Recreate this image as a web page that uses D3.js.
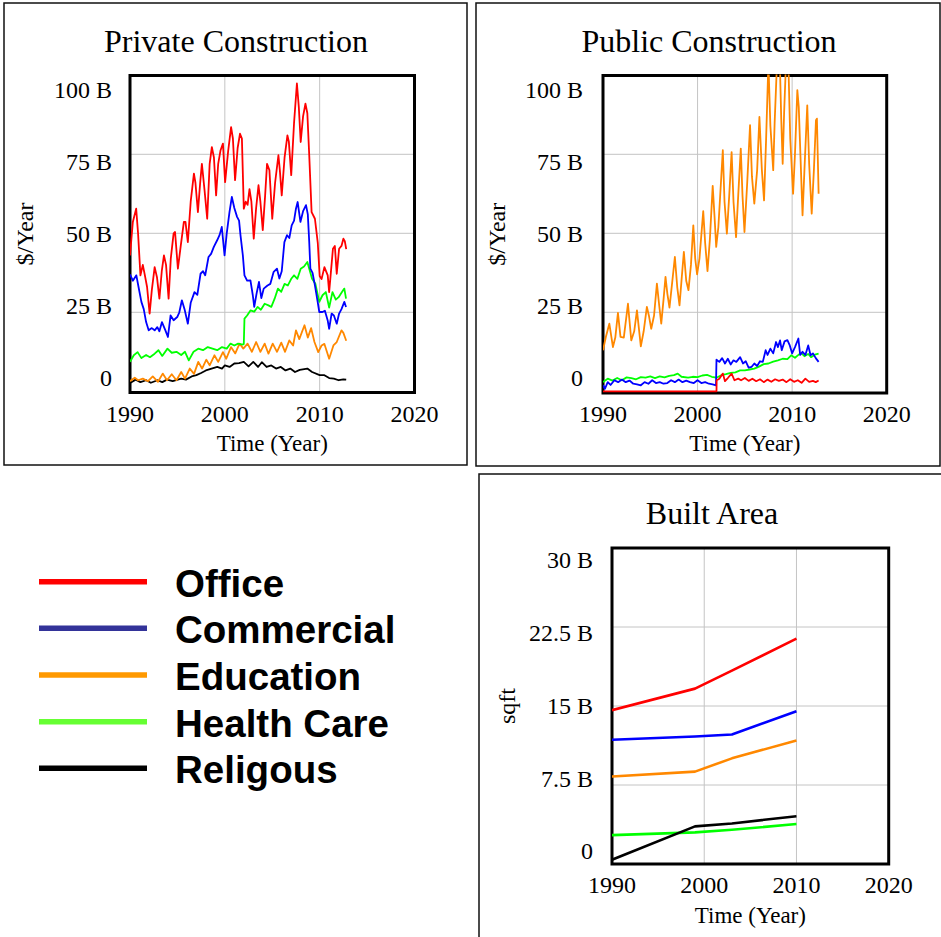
<!DOCTYPE html>
<html><head><meta charset="utf-8">
<script src="https://cdn.jsdelivr.net/npm/d3@7"></script>
<style>body{margin:0;background:#fff}svg{display:block}</style>
</head><body><svg id="c" width="941" height="937"></svg>
<script>
// ---------------- DATA ----------------
const seriesNames = ["Office","Commercial","Education","Health Care","Religous"];
const xTicks = [1990,2000,2010,2020];
const constrTicks = [0,25,50,75,100];
const constrTickLabels = ["0","25 B","50 B","75 B","100 B"];
const areaTicks = [0,7.5,15,22.5,30];
const areaTickLabels = ["0","7.5 B","15 B","22.5 B","30 B"];

// Private construction ($B/Year) [year, value]
const privOffice = [[1990.0,43],[1990.3,53.6],[1990.65,57.8],[1990.85,50],[1991.1,36.7],[1991.35,40],[1991.55,37],[1991.8,33],[1992.07,24.6],[1992.3,32],[1992.6,39.3],[1992.85,36],[1993.1,29.3],[1993.35,38],[1993.58,43],[1993.8,40],[1994.07,29.3],[1994.3,42],[1994.6,50],[1994.75,50.4],[1995.05,38.8],[1995.35,46],[1995.68,53.6],[1995.85,53.6],[1996.1,47.2],[1996.4,60],[1996.74,68.9],[1996.9,66],[1997.16,56.7],[1997.4,66],[1997.58,72],[1997.85,64],[1998.14,54.6],[1998.4,72],[1998.63,77.3],[1998.85,74],[1999.08,62],[1999.3,72],[1999.55,76.3],[1999.8,78.4],[2000.03,66.2],[2000.35,76],[2000.66,83.6],[2000.85,80],[2001.08,66.8],[2001.35,77],[2001.6,81.5],[2001.8,80],[2002.0,57.8],[2002.2,60],[2002.4,59],[2002.6,64],[2002.8,60],[2003.05,48.3],[2003.3,58],[2003.55,65.2],[2003.75,60],[2004.0,51],[2004.25,62],[2004.45,72],[2004.7,70],[2005.0,54.6],[2005.3,66],[2005.65,74.7],[2005.8,70],[2006.0,62],[2006.3,74],[2006.6,81],[2006.75,79],[2007.0,68.4],[2007.3,85],[2007.6,97.4],[2007.8,90],[2008.0,78.9],[2008.25,87],[2008.5,91],[2008.7,88],[2008.9,74.7],[2009.15,56.7],[2009.5,54.6],[2009.8,47],[2010.0,36.5],[2010.2,35.5],[2010.5,39.3],[2010.85,36.7],[2011.0,31.4],[2011.4,45.1],[2011.6,46],[2011.8,37.2],[2012.05,45.1],[2012.3,46],[2012.5,48.3],[2012.65,47.5],[2012.8,45]];
const privCommercial = [[1990.0,37],[1990.3,35],[1990.67,36.7],[1990.9,33],[1991.2,28.3],[1991.45,26],[1991.7,21.9],[1991.97,19.3],[1992.3,20],[1992.6,19.3],[1992.88,20.3],[1993.1,19],[1993.37,21.9],[1993.7,19.5],[1994.0,17.2],[1994.28,24],[1994.6,22.5],[1994.98,23.5],[1995.2,25],[1995.47,28.8],[1995.75,26],[1996.1,21.4],[1996.4,28],[1996.8,31.4],[1997.1,30.5],[1997.44,37.2],[1997.7,38],[1997.93,36.7],[1998.28,42.5],[1998.55,43.5],[1998.84,45.7],[1999.19,47.8],[1999.45,49.5],[1999.68,52],[1999.97,43],[2000.2,50],[2000.49,56.7],[2000.74,61.5],[2001.0,58],[2001.29,55.2],[2001.5,54],[2001.65,49.4],[2001.9,43],[2002.07,36.7],[2002.35,35],[2002.7,35.1],[2002.95,30.4],[2003.1,26.7],[2003.35,31],[2003.6,34.6],[2003.85,29.5],[2004.1,32.5],[2004.5,33.5],[2004.8,34],[2005.15,37.8],[2005.5,38.8],[2005.75,35.7],[2006.0,38],[2006.28,47.2],[2006.56,49.4],[2006.8,48.5],[2007.05,52.5],[2007.3,54],[2007.5,57.8],[2007.68,59.9],[2007.97,53.6],[2008.25,57],[2008.56,58.9],[2008.75,56],[2008.9,47.2],[2009.02,38.8],[2009.25,37.5],[2009.5,33.5],[2009.79,28.3],[2009.96,25.1],[2010.3,25.1],[2010.55,25.5],[2010.84,22.5],[2011.0,19.8],[2011.26,24.6],[2011.5,24],[2011.8,21.4],[2012.05,24.6],[2012.3,26],[2012.6,28.3],[2012.78,26.7]];
const privEducation = [[1990.0,3.2],[1990.5,4.3],[1990.85,3.5],[1991.35,4.0],[1991.9,3.2],[1992.4,4.7],[1992.95,3.0],[1993.45,5.6],[1993.9,3.5],[1994.4,5.4],[1994.9,3.5],[1995.4,6.1],[1995.8,4.0],[1996.3,7.2],[1996.75,5.5],[1997.2,9.3],[1997.6,7.2],[1998.05,10],[1998.4,8.2],[1998.9,11.4],[1999.3,9.3],[1999.8,12.4],[2000.15,10.3],[2000.65,14],[2001.1,12],[2001.55,15.1],[2001.95,13.5],[2002.4,15.1],[2002.85,12.5],[2003.3,15.6],[2003.75,12.5],[2004.2,15.1],[2004.6,11.9],[2005.05,15.1],[2005.5,12.5],[2005.95,15.4],[2006.35,12.5],[2006.8,16.1],[2007.2,14.5],[2007.5,19.3],[2007.85,16.5],[2008.4,20.9],[2008.75,17],[2009.1,20],[2009.45,15.6],[2009.85,12.4],[2010.2,14.5],[2010.5,15],[2011.0,10.3],[2011.45,14.5],[2011.8,15.6],[2012.3,19.3],[2012.5,18.5],[2012.8,16]];
const privHealth = [[1990.0,9.3],[1990.4,11.4],[1990.8,12.4],[1991.2,10.5],[1991.7,11.5],[1992.1,10.8],[1992.6,11.9],[1993.0,13],[1993.4,11.2],[1993.95,13.5],[1994.4,12.2],[1994.9,12.5],[1995.4,11.5],[1995.8,12.5],[1996.2,9.8],[1996.7,12.5],[1997.2,13.5],[1997.7,13],[1998.2,14],[1998.7,13.5],[1999.2,13],[1999.7,14],[2000.2,13.5],[2000.6,15.1],[2001.0,14.5],[2001.4,15.1],[2001.9,14.8],[2002.0,15],[2002.07,23],[2002.35,24],[2002.7,25.6],[2003.1,25.2],[2003.45,26.7],[2003.8,25.8],[2004.2,27.7],[2004.6,27.2],[2004.9,26.7],[2005.25,29.3],[2005.6,32.5],[2005.95,31.5],[2006.3,34],[2006.65,33.5],[2007.0,35.6],[2007.3,36.7],[2007.65,35.6],[2008.0,38.8],[2008.35,39.5],[2008.7,40.9],[2008.9,38.8],[2009.2,35.6],[2009.55,34],[2009.96,28.3],[2010.3,30.4],[2010.65,31.4],[2011.0,26.5],[2011.35,31.4],[2011.7,29],[2012.0,29.8],[2012.35,31.4],[2012.6,32.5],[2012.78,29.3]];
const privReligious = [[1990.0,2.6],[1990.6,3.7],[1991.1,2.9],[1991.7,3.5],[1992.2,2.7],[1992.9,3.5],[1993.4,2.9],[1993.9,3.7],[1994.5,3.2],[1995.4,4.0],[1995.9,3.7],[1996.5,4.7],[1997.0,5.1],[1997.5,5.8],[1998.0,6.6],[1998.6,7.2],[1999.2,7.7],[1999.7,7.2],[2000.0,8.2],[2000.5,7.7],[2001.0,8.8],[2001.5,8.9],[2002.0,9.3],[2002.5,7.9],[2003.0,9.3],[2003.5,7.7],[2003.9,9.2],[2004.4,7.7],[2004.9,8.2],[2005.4,7.2],[2005.9,7.7],[2006.4,6.6],[2006.9,7.2],[2007.4,6.1],[2007.9,6.8],[2008.7,7.2],[2009.2,6.1],[2010.0,5.1],[2010.5,5.1],[2011.0,4.2],[2011.5,4.0],[2012.0,3.5],[2012.5,3.8],[2012.8,3.7]];

// Public construction ($B/Year) [year, value]
const pubOffice = [[1990.0,0],[2002.0,0],[2002.02,3.5],[2002.3,4.0],[2002.67,5.6],[2002.9,3.2],[2003.2,4.2],[2003.6,5.6],[2003.9,3.5],[2004.3,4.0],[2004.6,3.5],[2005.0,4.2],[2005.4,3.3],[2005.8,4.0],[2006.2,3.2],[2006.6,3.8],[2007.0,2.9],[2007.4,3.7],[2007.8,3.0],[2008.2,3.8],[2008.6,3.3],[2009.0,3.7],[2009.4,2.9],[2009.8,3.8],[2010.2,3.0],[2010.6,3.5],[2011.0,2.7],[2011.4,4.0],[2011.8,3.0],[2012.2,3.3],[2012.5,2.9],[2012.8,3.4]];
const pubCommercial = [[1990.0,1.9],[1990.2,0.8],[1990.5,2.9],[1990.8,2.0],[1991.2,3.5],[1991.6,2.9],[1992.0,3.7],[1992.4,2.9],[1992.8,3.4],[1993.2,2.4],[1993.6,2.2],[1994.0,1.9],[1994.4,2.9],[1994.8,2.4],[1995.2,3.5],[1995.6,2.6],[1996.0,2.9],[1996.4,2.4],[1996.8,2.6],[1997.2,3.5],[1997.6,2.9],[1998.0,3.7],[1998.4,2.9],[1998.8,3.4],[1999.2,2.9],[1999.6,2.6],[2000.0,3.5],[2000.4,2.6],[2000.8,2.9],[2001.2,2.4],[2001.6,2.2],[2001.95,1.9],[2002.0,10],[2002.3,9.3],[2002.6,10.5],[2002.9,8.8],[2003.2,10.3],[2003.5,8.5],[2003.8,9.8],[2004.1,9.3],[2004.5,10.8],[2004.8,8.8],[2005.1,9.5],[2005.4,7.5],[2005.7,7.7],[2006.0,8.8],[2006.3,8],[2006.6,9.5],[2006.9,9.3],[2007.2,13],[2007.4,11.5],[2007.7,13.5],[2008.0,12],[2008.3,15.6],[2008.5,14],[2008.72,16.1],[2008.9,13],[2009.2,15.8],[2009.5,16.2],[2009.75,14.5],[2010.0,12],[2010.3,14],[2010.66,16.7],[2010.85,11.5],[2011.1,12.5],[2011.4,11.5],[2011.7,14.5],[2011.95,11.4],[2012.2,12],[2012.5,10.5],[2012.8,9.3]];
const pubEducation = [[1990.0,13],[1990.3,17.2],[1990.67,21.4],[1991.05,14],[1991.3,17],[1991.58,24.8],[1991.85,17.2],[1992.2,17],[1992.64,27.7],[1992.99,16.1],[1993.3,19],[1993.59,25.6],[1994.0,14.2],[1994.3,19],[1994.64,26.7],[1994.85,24],[1995.1,19.8],[1995.4,24],[1995.7,34.1],[1995.95,27],[1996.16,21.4],[1996.4,29],[1996.61,36.2],[1996.8,31],[1997.03,26.5],[1997.3,34],[1997.6,42.5],[1997.85,33],[1998.09,27.2],[1998.3,35],[1998.55,44.1],[1998.8,35],[1999.04,32],[1999.3,40],[1999.55,52.5],[1999.75,42],[1999.95,37],[2000.2,42],[2000.6,57],[2000.8,47],[2001.05,38],[2001.3,48],[2001.6,65],[2001.8,55],[2001.97,45.7],[2002.2,52],[2002.67,76.3],[2002.85,60],[2003.1,49.9],[2003.35,62],[2003.6,75.7],[2003.8,60],[2004.07,48.8],[2004.3,62],[2004.57,76.8],[2004.75,62],[2004.96,50.4],[2005.25,66],[2005.55,84.2],[2005.75,68],[2006.0,59.4],[2006.3,70],[2006.54,86.8],[2006.8,70],[2007.03,60.4],[2007.25,80],[2007.49,104],[2007.7,84],[2008.0,70],[2008.15,85],[2008.4,104],[2008.7,104],[2008.85,86],[2009.0,72],[2009.15,88],[2009.35,104],[2009.6,104],[2009.8,80],[2010.1,62.5],[2010.3,75],[2010.55,95.3],[2010.7,90],[2011.1,55.7],[2011.3,70],[2011.6,90.5],[2011.8,72],[2012.07,56.2],[2012.3,70],[2012.52,85.8],[2012.62,86.3],[2012.8,62.5]];
const pubHealth = [[1990.0,2.9],[1990.5,4.0],[1991.0,3.4],[1991.5,4.2],[1992.0,3.5],[1992.5,4.4],[1993.0,4.2],[1993.5,3.8],[1994.0,4.5],[1994.5,4.3],[1995.0,4.7],[1995.5,4.2],[1996.0,4.7],[1996.5,4.4],[1997.0,4.9],[1997.5,5.1],[1997.9,5.6],[1998.3,4.6],[1999.0,4.3],[1999.5,4.6],[2000.0,4.5],[2000.5,5.0],[2001.0,5.2],[2001.5,4.6],[2002.0,4.3],[2002.5,5.1],[2003.0,5.4],[2003.5,5.8],[2004.0,6.0],[2004.5,6.6],[2005.0,6.6],[2005.5,6.9],[2006.0,7.2],[2006.5,7.8],[2007.0,8.6],[2007.5,8.8],[2008.0,9.4],[2008.5,9.8],[2009.0,10.3],[2009.5,10.2],[2009.9,11.4],[2010.3,10.6],[2010.7,11.6],[2011.0,12],[2011.3,11.1],[2011.7,11.8],[2012.0,10.8],[2012.4,11.6],[2012.8,11.9]];

// Built area (B sqft)
const areaYears = [1990,1999,2003,2010];
const areaOffice = [14.6,16.65,18.36,21.4];
const areaCommercial = [11.8,12.1,12.3,14.5];
const areaEducation = [8.3,8.77,10.03,11.73];
const areaHealth = [2.74,3.0,3.25,3.79];
const areaReligious = [0.41,3.57,3.85,4.54];

// ---------------- STYLE ----------------
const chartColors = {"Office":"#ff0000","Commercial":"#0000ff","Education":"#ff8800","Health Care":"#00ff00","Religous":"#000000"};
const legendColors = {"Office":"#ff0000","Commercial":"#333399","Education":"#ff9900","Health Care":"#66ff33","Religous":"#000000"};
const serif = "'Liberation Serif','Times New Roman',serif";

const svg = d3.select("#c");
svg.append("rect").attr("width",941).attr("height",937).attr("fill","#fff");

// panel boxes
[[4,3,463,462],[476,3,464,463],[479,474,463,470]].forEach(b=>{
  svg.append("rect").attr("x",b[0]).attr("y",b[1]).attr("width",b[2]).attr("height",b[3])
    .attr("fill","none").attr("stroke","#111").attr("stroke-width",1.5);
});

let clipId = 0;
function drawChart(cfg){
  const g = svg.append("g");
  const x = d3.scaleLinear().domain([1990,2020]).range([cfg.x0,cfg.x1]);
  const y = d3.scaleLinear().domain([0,cfg.yMax]).range([cfg.yZero,cfg.yTop]);
  const yLab = d3.scaleLinear().domain([0,cfg.yMax]).range([cfg.labZero,cfg.labTop]);
  // grid
  g.selectAll(".gx").data(xTicks.slice(1,-1)).join("line")
    .attr("x1",d=>x(d)).attr("x2",d=>x(d)).attr("y1",cfg.fy0).attr("y2",cfg.fy1)
    .attr("stroke","#c4c4c4").attr("stroke-width",1);
  g.selectAll(".gy").data(cfg.ticks.slice(1,-1)).join("line")
    .attr("x1",cfg.x0).attr("x2",cfg.x1).attr("y1",d=>y(d)).attr("y2",d=>y(d))
    .attr("stroke","#c4c4c4").attr("stroke-width",1);
  // frame
  g.append("rect").attr("x",cfg.x0).attr("y",cfg.fy0).attr("width",cfg.x1-cfg.x0).attr("height",cfg.fy1-cfg.fy0)
    .attr("fill","none").attr("stroke","#000").attr("stroke-width",3);
  // tick labels
  g.selectAll(".yl").data(cfg.ticks).join("text")
    .attr("x",cfg.labRight).attr("y",d=>yLab(d)).attr("dy","0.35em").attr("text-anchor","end")
    .attr("font-family",serif).attr("font-size",24).text((d,i)=>cfg.tickLabels[i]);
  g.selectAll(".xl").data(xTicks).join("text")
    .attr("x",d=>x(d)).attr("y",cfg.xLabY).attr("dy","0.35em").attr("text-anchor","middle")
    .attr("font-family",serif).attr("font-size",24).text(d=>d);
  // titles
  g.append("text").attr("x",cfg.titleX).attr("y",cfg.titleY).attr("text-anchor","middle")
    .attr("font-family",serif).attr("font-size",32).text(cfg.title);
  g.append("text").attr("x",(cfg.x0+cfg.x1)/2).attr("y",cfg.xTitleY).attr("dy","0.35em").attr("text-anchor","middle")
    .attr("font-family",serif).attr("font-size",23).text("Time (Year)");
  g.append("text").attr("transform",`translate(${cfg.yTitleX},${(cfg.fy0+cfg.fy1)/2}) rotate(-90)`)
    .attr("dy","0.35em").attr("text-anchor","middle")
    .attr("font-family",serif).attr("font-size",24).text(cfg.yTitle);
  // lines
  const id = "clip"+(clipId++);
  svg.append("clipPath").attr("id",id).append("rect")
    .attr("x",cfg.x0).attr("y",cfg.fy0-1).attr("width",cfg.x1-cfg.x0).attr("height",cfg.fy1-cfg.fy0+1);
  const line = d3.line().x(d=>x(d[0])).y(d=>y(d[1]));
  const lg = g.append("g").attr("clip-path",`url(#${id})`);
  cfg.series.forEach(s=>{
    lg.append("path").attr("d",line(s.data)).attr("fill","none")
      .attr("stroke",chartColors[s.name]).attr("stroke-width",cfg.lw).attr("stroke-linejoin","round");
  });
}

drawChart({title:"Private Construction",titleX:236,titleY:52,yTitle:"$/Year",yTitleX:25,
  x0:130,x1:414.5,fy0:75.5,fy1:392.5,yZero:391.3,yTop:75.3,yMax:100,
  ticks:constrTicks,tickLabels:constrTickLabels,labZero:378,labTop:90,labRight:112,xLabY:414,xTitleY:443,lw:1.8,
  series:[{name:"Religous",data:privReligious},{name:"Education",data:privEducation},{name:"Health Care",data:privHealth},{name:"Commercial",data:privCommercial},{name:"Office",data:privOffice}]});

drawChart({title:"Public Construction",titleX:709,titleY:52,yTitle:"$/Year",yTitleX:497,
  x0:603,x1:886.7,fy0:75.5,fy1:393,yZero:391.3,yTop:75.3,yMax:100,
  ticks:constrTicks,tickLabels:constrTickLabels,labZero:378,labTop:90,labRight:583,xLabY:414,xTitleY:443,lw:1.8,
  series:[{name:"Education",data:pubEducation},{name:"Health Care",data:pubHealth},{name:"Commercial",data:pubCommercial},{name:"Office",data:pubOffice}]});

const zipA = v => areaYears.map((yr,i)=>[yr,v[i]]);
drawChart({title:"Built Area",titleX:712,titleY:524,yTitle:"sqft",yTitleX:507,
  x0:612,x1:888.7,fy0:548,fy1:864,yZero:864,yTop:548,yMax:30,
  ticks:areaTicks,tickLabels:areaTickLabels,labZero:851,labTop:560,labRight:593,xLabY:885,xTitleY:915,lw:2.6,
  series:[{name:"Health Care",data:zipA(areaHealth)},{name:"Religous",data:zipA(areaReligious)},{name:"Education",data:zipA(areaEducation)},{name:"Commercial",data:zipA(areaCommercial)},{name:"Office",data:zipA(areaOffice)}]});

// legend
const legY = d3.scalePoint().domain(seriesNames).range([581.7,768.3]);
const leg = svg.append("g");
leg.selectAll("line").data(seriesNames).join("line")
  .attr("x1",39).attr("x2",147).attr("y1",d=>legY(d)).attr("y2",d=>legY(d))
  .attr("stroke",d=>legendColors[d]).attr("stroke-width",5.5);
leg.selectAll("text").data(seriesNames).join("text")
  .attr("x",175).attr("y",d=>legY(d)+15).attr("font-family","'Liberation Sans',Arial,sans-serif")
  .attr("font-weight","bold").attr("font-size",38.5).attr("fill","#000").text(d=>d);
</script></body></html>
